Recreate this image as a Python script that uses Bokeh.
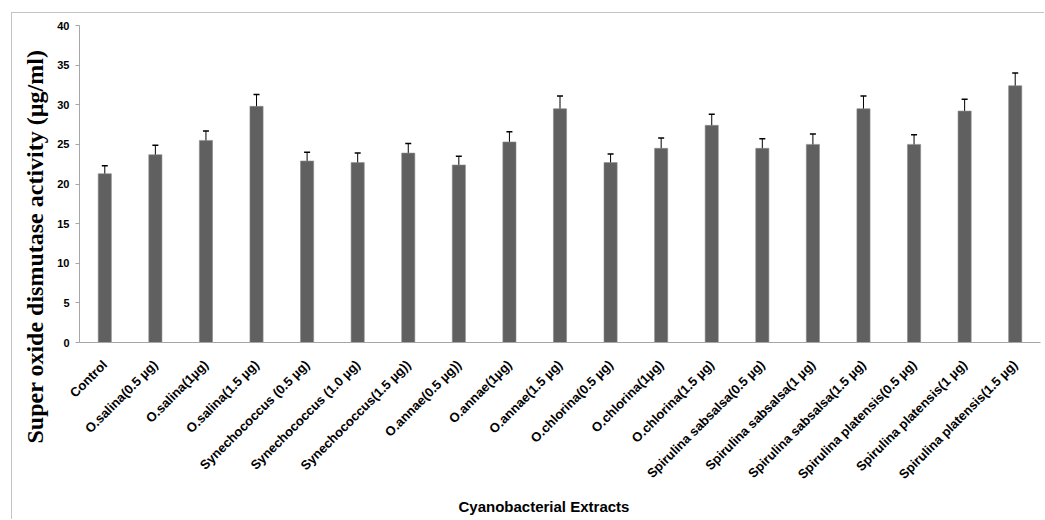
import math
from bokeh.plotting import figure
from bokeh.models import ColumnDataSource, Whisker, Title, FactorRange, FixedTicker, TeeHead
from bokeh.embed import file_html
from bokeh.resources import INLINE

categories = [
    "Control", "O.salina(0.5 µg)", "O.salina(1µg)", "O.salina(1.5 µg)",
    "Synechococcus (0.5 µg)", "Synechococcus (1.0 µg)", "Synechococcus(1.5 µg))",
    "O.annae(0.5 µg))", "O.annae(1µg)", "O.annae(1.5 µg)",
    "O.chlorina(0.5 µg)", "O.chlorina(1µg)", "O.chlorina(1.5 µg)",
    "Spirulina sabsalsa(0.5 µg)", "Spirulina sabsalsa(1 µg)", "Spirulina sabsalsa(1.5 µg)",
    "Spirulina platensis(0.5 µg)", "Spirulina platensis(1 µg)", "Spirulina platensis(1.5 µg)",
]
sod_activity = [21.3, 23.7, 25.5, 29.8, 22.9, 22.7, 23.9, 22.4, 25.3, 29.5,
                22.7, 24.5, 27.4, 24.5, 25.0, 29.5, 25.0, 29.2, 32.4]
sod_error = [1.0, 1.2, 1.2, 1.5, 1.1, 1.2, 1.2, 1.1, 1.3, 1.6,
             1.1, 1.3, 1.4, 1.2, 1.3, 1.6, 1.2, 1.5, 1.6]
y_ticks = [0, 5, 10, 15, 20, 25, 30, 35, 40]

upper = [v + e for v, e in zip(sod_activity, sod_error)]
lower = [v - e for v, e in zip(sod_activity, sod_error)]
src = ColumnDataSource(dict(cat=categories, sod=sod_activity, upper=upper, lower=lower))

p = figure(x_range=FactorRange(*categories), y_range=(0, 40),
           width=1033, height=507, output_backend="svg", toolbar_location=None,
           min_border_left=66, min_border_top=12, min_border_right=5, min_border_bottom=178)
p.styles = {"margin-left": "11px", "margin-top": "12px",
            "border-left": "1px solid #c4c4c4", "border-top": "1px solid #c4c4c4"}

p.vbar(x="cat", top="sod", width=0.26, source=src,
       fill_color="#606060", line_color="#8c8c8c", line_width=0.6)

w = Whisker(base="cat", upper="upper", lower="lower", source=src,
            line_color="black", line_width=1,
            upper_head=TeeHead(size=6, line_color="black", line_width=1.5),
            lower_head=TeeHead(size=6, line_color="black", line_width=1.5))
p.add_layout(w)

p.grid.visible = False
p.outline_line_color = None

p.yaxis.ticker = FixedTicker(ticks=y_ticks)
p.yaxis.minor_tick_line_color = None
p.yaxis.major_tick_in = 0
p.yaxis.major_tick_out = 4
p.yaxis.axis_line_color = "#a6a6a6"
p.yaxis.major_tick_line_color = "#a6a6a6"
p.yaxis.major_label_text_font = "Liberation Sans"
p.yaxis.major_label_text_font_style = "bold"
p.yaxis.major_label_text_font_size = "11px"
p.yaxis.major_label_text_color = "black"
p.yaxis.major_label_standoff = 6

p.xaxis.major_label_orientation = math.pi / 4
p.xaxis.major_tick_line_color = None
p.xaxis.axis_line_color = "#a6a6a6"
p.xaxis.major_label_text_font = "Liberation Sans"
p.xaxis.major_label_text_font_style = "bold"
p.xaxis.major_label_text_font_size = "13px"
p.xaxis.major_label_text_color = "black"
p.xaxis.major_label_standoff = 14

ytitle = Title(text="Super oxide dismutase activity (µg/ml)", align="left", offset=-101,
               text_font="Liberation Serif", text_font_style="bold",
               text_font_size="24px", text_color="black", standoff=14)
xtitle = Title(text="Cyanobacterial Extracts", align="left", offset=379,
               text_font="Liberation Sans", text_font_style="bold",
               text_font_size="15px", text_color="black", standoff=10)
p.add_layout(ytitle, "left")
p.add_layout(xtitle, "below")

open("out.html", "w").write(file_html(p, INLINE))
